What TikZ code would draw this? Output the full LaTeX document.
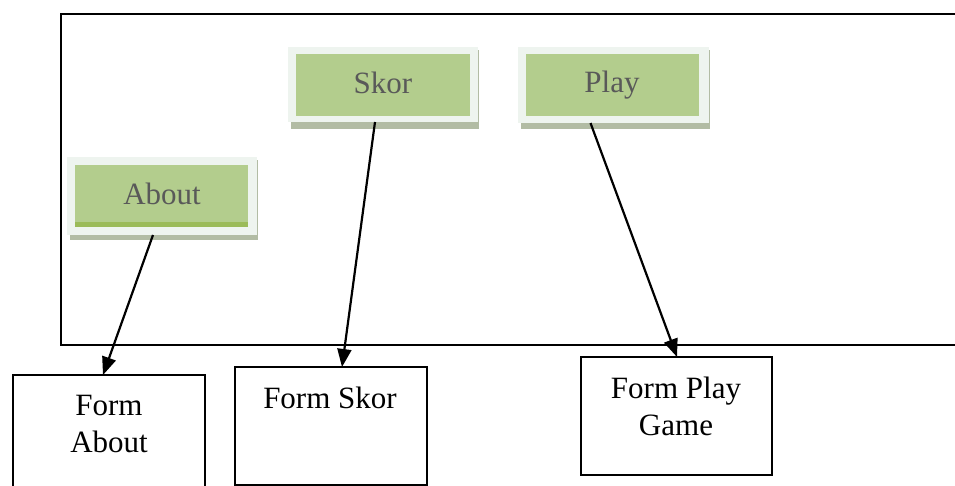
\documentclass[tikz,border=0pt]{standalone}
\usepackage{fontspec}
\setmainfont{Liberation Serif}
\usetikzlibrary{arrows.meta,calc}

\definecolor{btngreen}{HTML}{B3CD8D}
\definecolor{btnstripe}{HTML}{9BBB59}
\definecolor{btnrim}{HTML}{EEF4EF}
\definecolor{btnshadow}{HTML}{B2BCA4}
\definecolor{btntext}{HTML}{595959}

\begin{document}
\begin{tikzpicture}[x=1pt,y=-1pt,
  btnrim/.style={fill=btnrim, draw=none, inner sep=0pt, outer sep=0pt, anchor=north west},
  btnlabel/.style={text=btntext, font=\fontsize{31}{37}\selectfont, inner sep=0pt, anchor=base},
  formbox/.style={draw=black, line width=2.2pt, fill=white, inner sep=0pt, outer sep=0pt, anchor=north west},
  formtext/.style={text=black, font=\fontsize{31}{37}\selectfont, align=center, inner sep=0pt, anchor=base},
  conn/.style={draw=black, line width=2.2pt, -{Triangle[length=18pt,width=14pt]}},
  framestyle/.style={draw=black, line width=2.2pt}]

\useasboundingbox (0,0) rectangle (955,486);

% screen frame, open on the right
\draw[framestyle] (960,14) -- (61,14) -- (61,345) -- (960,345);

% About button
\fill[btnshadow] (70,160) rectangle (258,240);
\node[btnrim, minimum width=190pt, minimum height=78pt] (about) at (67,157) {};
\fill[btngreen] (75,165) rectangle (248,227);
\fill[btnstripe] (75,222) rectangle (248,227);
\node[btnlabel] (aboutlbl) at (162,205) {About};

% Skor button
\fill[btnshadow] (291,50) rectangle (479,129);
\node[btnrim, minimum width=190pt, minimum height=75pt] (skor) at (288,47) {};
\fill[btngreen] (296,54) rectangle (470,116);
\node[btnlabel] (skorlbl) at (383,94) {Skor};

% Play button
\fill[btnshadow] (521,50) rectangle (710,129);
\node[btnrim, minimum width=191pt, minimum height=76pt] (play) at (518,47) {};
\fill[btngreen] (526,54) rectangle (699,116);
\node[btnlabel] (playlbl) at (612,93) {Play};

% target forms (multi-line labels are placed by their last baseline)
\node[formbox, minimum width=192pt, minimum height=140pt] (formabout) at (13,375) {};
\node[formtext] (formabouttxt) at (109,452) {Form\\About};

\node[formbox, minimum width=192pt, minimum height=118pt] (formskor) at (235,367) {};
\node[formtext] (formskortxt) at (330,408) {Form Skor};

\node[formbox, minimum width=191pt, minimum height=118pt] (formplay) at (581,357) {};
\node[formtext] (formplaytxt) at (676,435) {Form Play\\Game};

% navigation arrows
\draw[conn] ([xshift=-9pt]about.south) -- ([xshift=-6pt]formabout.north);
\draw[conn] ([xshift=-8pt]skor.south) -- ([xshift=11pt]formskor.north);
\draw[conn] ([xshift=-23pt]play.south) -- ([xshift=0.5pt]formplay.north);

\end{tikzpicture}
\end{document}
